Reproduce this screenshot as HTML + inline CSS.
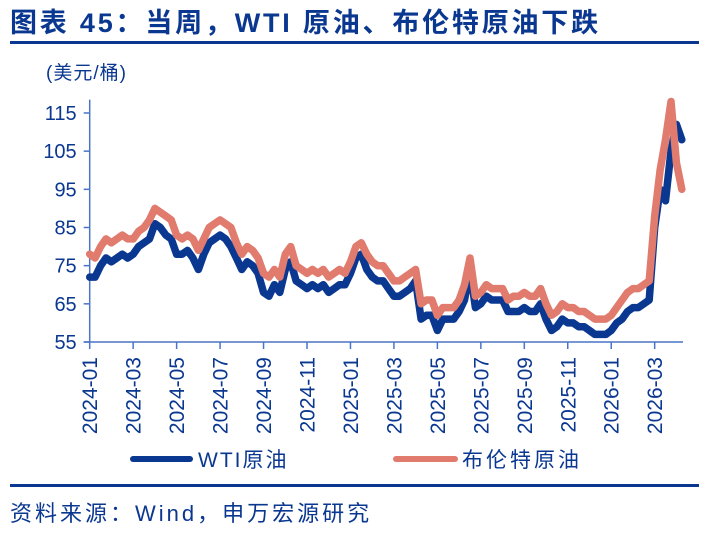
<!DOCTYPE html>
<html><head><meta charset="utf-8">
<style>
body{margin:0;width:719px;height:533px;background:#fff;overflow:hidden;font-family:"Liberation Sans","Noto Sans CJK SC",sans-serif;}
svg{display:block}
</style></head>
<body>
<svg id="chart" width="719" height="533" xmlns="http://www.w3.org/2000/svg">
<text x="10" y="32" font-size="27" font-weight="bold" letter-spacing="2.8" fill="#0a3790" font-family="Liberation Sans, Noto Sans CJK SC, sans-serif">图表 45：当周，WTI 原油、布伦特原油下跌</text>
<rect x="10" y="41" width="689" height="3" fill="#0a3790"/>
<text x="46" y="79" font-size="19" letter-spacing="1" fill="#0a3790">(美元/桶)</text>
<g id="axes"></g>
<g id="series"></g>
<g>
<line x1="133" y1="459" x2="190" y2="459" stroke="#0a3790" stroke-width="6" stroke-linecap="round"/>
<text x="198" y="467" font-size="21" letter-spacing="2" fill="#0a3790">WTI原油</text>
<line x1="396" y1="459" x2="455" y2="459" stroke="#e07b6e" stroke-width="6" stroke-linecap="round"/>
<text x="462" y="467" font-size="21" letter-spacing="3" fill="#0a3790">布伦特原油</text>
</g>
<rect x="10" y="484" width="689" height="3" fill="#0a3790"/>
<text x="10" y="521" font-size="22" letter-spacing="3" fill="#0a3790">资料来源：Wind，申万宏源研究</text>
</svg>
<script>
const xTickLabels = ["2024-01","2024-03","2024-05","2024-07","2024-09","2024-11","2025-01","2025-03","2025-05","2025-07","2025-09","2025-11","2026-01","2026-03"];
const yTickLabels = [55,65,75,85,95,105,115];
const wti = [72,72,75,77, 76,77,78,77, 78,80,81,82, 86,85,83,82, 78,78,79,77, 74,78,81,82, 83,82,80,77, 74,76,75,73, 68,67,70,68, 74,76,71,70, 69,70,69,70, 68,69,70,70,
 73,77,78,74, 72,71,71,69, 67,67,68,69, 71,61,62,62, 58,61,61,61, 63,66,74,64, 65,67,66,66, 66,63,63,63, 64,63,63,65, 61,58,59,61, 60,60,59,59, 58,57,57,57,
 58,60,61,63, 64,64,65,66, 85,95,92,105, 112,108];
const brent = [78,77,80,82, 81,82,83,82, 82,84,85,87, 90,89,88,87, 83,82,83,82, 79,82,85,86, 87,86,85,81, 78,80,79,77, 73,72,74,72, 78,80,75,74, 73,74,73,74, 72,73,74,73,
 76,80,81,78, 76,75,75,73, 71,71,72,73, 74,65,66,66, 62,64,64,64, 66,70,77,67, 68,70,69,69, 69,66,67,67, 68,67,67,69, 65,62,63,65, 64,64,63,63, 62,61,61,61,
 62,64,66,68, 69,69,70,71, 88,100,108,118, 102,95];

const NS="http://www.w3.org/2000/svg";
const X0=89.7, PX_PER_MONTH=21.73, Y0=342, PX_PER_UNIT=3.817;
const xScale = m => X0 + m*PX_PER_MONTH;
const yScale = v => Y0 - (v-55)*PX_PER_UNIT;
const axes=document.getElementById('axes'), series=document.getElementById('series');
function mk(tag, attrs, parent){const e=document.createElementNS(NS,tag);for(const k in attrs)e.setAttribute(k,attrs[k]);parent.appendChild(e);return e;}

const yAxis = mk('line',{x1:X0,y1:yScale(118.5),x2:X0,y2:Y0,stroke:'#4a74c9','stroke-width':1.5},axes);


const xAxis = mk('line',{x1:X0-6,y1:Y0,x2:683,y2:Y0,stroke:'#4a74c9','stroke-width':1.5},axes);



yTickLabels.forEach(v=>{
  const y=yScale(v);
  const t=mk('line',{x1:X0-6,y1:y,x2:X0,y2:y,stroke:'#4a74c9','stroke-width':1.5},axes);
  
  
  const l=mk('text',{x:X0-13,y:y+7,'font-size':20,fill:'#0a3790','text-anchor':'end'},axes);
  l.textContent=v;
  
  
});
xTickLabels.forEach((s,i)=>{
  const x=xScale(i*2);
  const t=mk('line',{x1:x,y1:Y0,x2:x,y2:Y0+7,stroke:'#4a74c9','stroke-width':1.5},axes);
  
  
  const l=mk('text',{x:0,y:0,'font-size':21,fill:'#0a3790','text-anchor':'end',transform:`translate(${x+7.5},${Y0+15}) rotate(-90)`},axes);
  l.textContent=s;
  
  
});

function path(data){return data.map((v,i)=>(i?'L':'M')+xScale(i*0.25).toFixed(1)+','+yScale(v).toFixed(1)).join(' ');}
const pw=mk('path',{d:path(wti),fill:'none',stroke:'#0a3790','stroke-width':7.5,'stroke-linejoin':'round','stroke-linecap':'round'},series);


const pb=mk('path',{d:path(brent),fill:'none',stroke:'#e07b6e','stroke-width':7.5,'stroke-linejoin':'round','stroke-linecap':'round'},series);


</script>
</body></html>
